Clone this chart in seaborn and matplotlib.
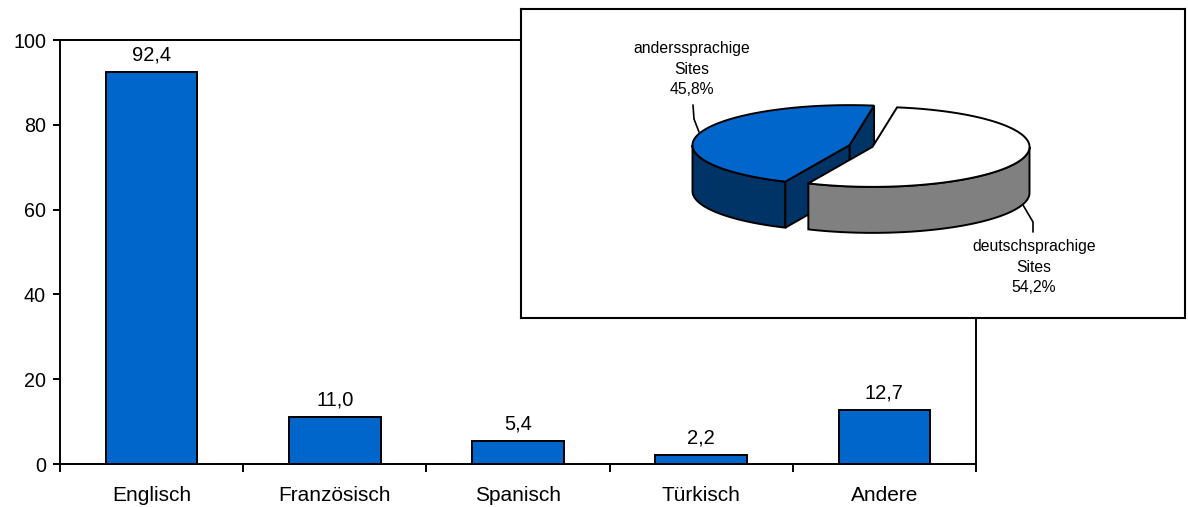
import numpy as np
import pandas as pd
import matplotlib
matplotlib.use("Agg")
import matplotlib.pyplot as plt
from matplotlib.patches import Polygon
import seaborn as sns

# Languages of foreign-language sites (percent)
languages = ["Englisch", "Französisch", "Spanisch", "Türkisch", "Andere"]
shares = [92.4, 11.0, 5.4, 2.2, 12.7]

# Share of German vs. other-language sites (percent)
pie_labels = ["anderssprachige\nSites", "deutschsprachige\nSites"]
pie_values = [45.8, 54.2]

y_ticks = [0, 20, 40, 60, 80, 100]

BLUE = "#0066CC"
DARK_BLUE = "#003366"
GREY = "#808080"


def de_num(v, pct=False):
    s = f"{v:.1f}".replace(".", ",")
    return s + ("%" if pct else "")


sns.set_theme(style="white")
plt.rcParams["font.family"] = ["Liberation Sans", "DejaVu Sans"]
plt.rcParams["text.color"] = "black"
plt.rcParams["xtick.color"] = "black"
plt.rcParams["ytick.color"] = "black"
plt.rcParams["xtick.labelcolor"] = "black"
plt.rcParams["ytick.labelcolor"] = "black"

fig = plt.figure(figsize=(11.88, 5.07), dpi=100)
ax = fig.add_axes([60 / 1188, 1 - 464 / 507, 916 / 1188, 424 / 507])

df = pd.DataFrame({"Sprache": languages, "Anteil": shares})
sns.barplot(data=df, x="Sprache", y="Anteil", color=BLUE, saturation=1,
            width=0.5, edgecolor="black", linewidth=1.4, ax=ax)

for i, v in enumerate(shares):
    ax.text(i, v + 1.8, de_num(v), ha="center", va="bottom", fontsize=14.5,
            color="black")

ax.set_xlim(-0.5, len(languages) - 0.5)
ax.set_ylim(0, 100)
ax.set_yticks(y_ticks)
ax.set_xlabel("")
ax.set_ylabel("")
for s in ax.spines.values():
    s.set_visible(True)
    s.set_color("black")
    s.set_linewidth(1.4)
ax.tick_params(axis="y", which="major", direction="out", length=5, width=1.4,
               color="black", labelcolor="black", labelsize=14.2, pad=5,
               left=True)
ax.set_xticks(np.arange(-0.5, len(languages), 1.0), minor=True)
ax.tick_params(axis="x", which="minor", direction="out", length=6, width=1.4,
               color="black", bottom=True)
ax.tick_params(axis="x", which="major", length=0, labelsize=15, pad=16,
               labelcolor="black")

# Inset: 3D pie of site language
box_w, box_h = 664, 309
ins = fig.add_axes([521 / 1188, 1 - 318 / 507, box_w / 1188, box_h / 507])
ins.set_xlim(0, box_w)
ins.set_ylim(box_h, 0)
ins.set_xticks([])
ins.set_yticks([])
ins.set_facecolor("white")
for s in ins.spines.values():
    s.set_color("black")
    s.set_linewidth(1.5)
ins.set_zorder(5)

cx, cy = 340, 137
rx, ry, depth = 157, 40, 46
explode = 12
start = 81.0
tops = [BLUE, "white"]
sides = [DARK_BLUE, GREY]


def pt(x0, y0, a, dz=0.0):
    r = np.deg2rad(a)
    return (x0 + rx * np.cos(r), y0 - ry * np.sin(r) + dz)


total = sum(pie_values)
a0 = start
z = 1
for val, ctop, cside in zip(pie_values, tops, sides):
    span = val / total * 360.0
    a1 = a0 + span
    mid = np.deg2rad((a0 + a1) / 2)
    ox = cx + explode * np.cos(mid)
    oy = cy - explode * np.sin(mid) * ry / rx

    # outer rim wall (front half only)
    for lo, hi in [(180, 360), (540, 720)]:
        w0, w1 = max(a0, lo), min(a1, hi)
        if w1 > w0:
            angs = np.linspace(w0, w1, 80)
            top_arc = [pt(ox, oy, a) for a in angs]
            bot_arc = [pt(ox, oy, a, depth) for a in angs[::-1]]
            ins.add_patch(Polygon(top_arc + bot_arc, closed=True, fc=cside,
                                  ec="black", lw=1.4, zorder=z))
            z += 1

    # radial cut faces that face the viewer
    for edge, normal in [(a0, a0 - 90), (a1, a1 + 90)]:
        if np.sin(np.deg2rad(normal)) < 0:
            p_top = pt(ox, oy, edge)
            p_bot = pt(ox, oy, edge, depth)
            quad = [(ox, oy), p_top, p_bot, (ox, oy + depth)]
            ins.add_patch(Polygon(quad, closed=True, fc=cside, ec="black",
                                  lw=1.4, zorder=z))
            z += 1

    # top face
    angs = np.linspace(a0, a1, 160)
    face = [(ox, oy)] + [pt(ox, oy, a) for a in angs]
    ins.add_patch(Polygon(face, closed=True, fc=ctop, ec="black", lw=1.4,
                          zorder=z))
    z += 1
    a0 = a1

# slice labels with leader lines
ins.text(171, 60, pie_labels[0] + "\n" + de_num(pie_values[0], True),
         ha="center", va="center", fontsize=11.3, linespacing=1.45,
         color="black", zorder=z)
ins.plot([172, 173, 178], [96, 110, 123], color="black", lw=1.2, zorder=z)
ins.text(513, 258, pie_labels[1] + "\n" + de_num(pie_values[1], True),
         ha="center", va="center", fontsize=11.3, linespacing=1.45,
         color="black", zorder=z)
ins.plot([502, 512, 512], [196, 213, 223], color="black", lw=1.2, zorder=z)

fig.savefig("out.png", dpi=100)
